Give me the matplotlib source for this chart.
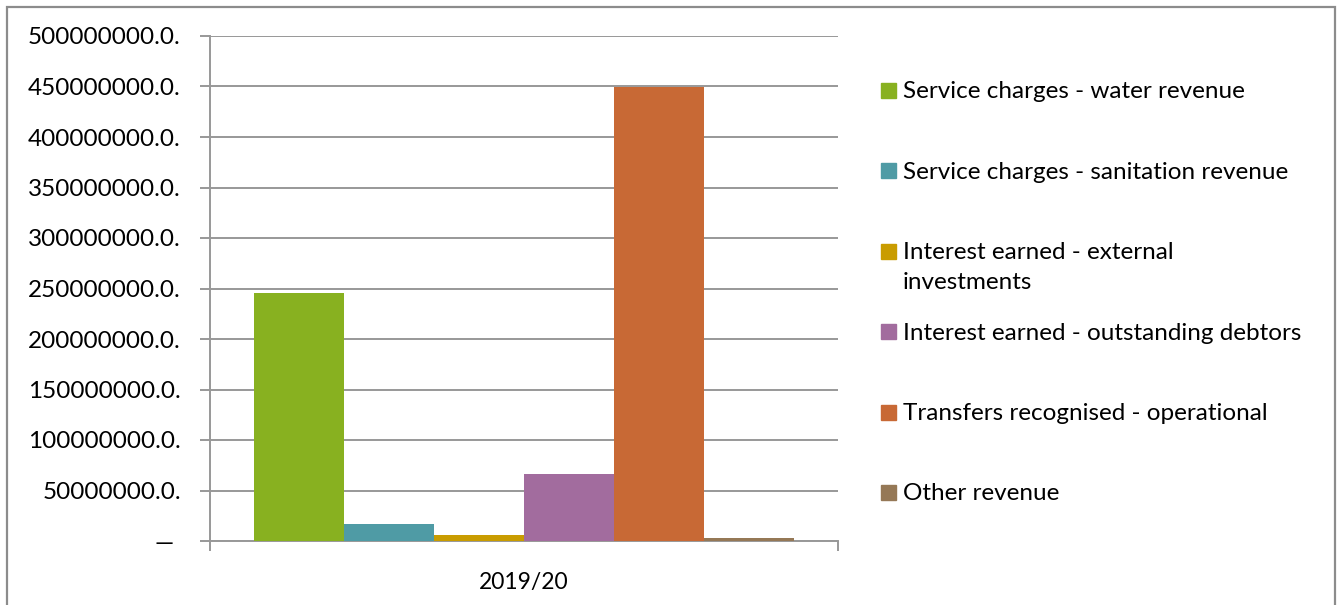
import numpy as np
import matplotlib.pyplot as plt
from matplotlib.patches import Rectangle
from matplotlib.ticker import FuncFormatter

plt.rcParams['font.family'] = ['Lato', 'DejaVu Sans']

# revenue by source, 2019/20
category = '2019/20'
series = ['Service charges - water revenue',
          'Service charges - sanitation revenue',
          'Interest earned - external\ninvestments',
          'Interest earned - outstanding debtors',
          'Transfers recognised - operational',
          'Other revenue']
values = [245500000, 16800000, 6000000, 66300000, 449500000, 2700000]
colors = ['#88b120', '#4f9ba5', '#c99c00', '#a26c9e', '#c86935', '#957856']

W, H = 1343, 605
fig = plt.figure(figsize=(W / 100, H / 100), dpi=100)

# outer chart border
fig.patches.append(Rectangle((7 / W, -0.02), 1328 / W, (H - 7) / H + 0.02,
                             transform=fig.transFigure, fill=False,
                             edgecolor='#8c8c8c', linewidth=1.6))

ax = fig.add_axes([210 / W, (H - 541) / H, 628 / W, 505 / H])

n = len(values)
bw = 0.86 / n
x = -0.43 + bw * (np.arange(n) + 0.5)
ax.bar(x, values, width=bw, color=colors, zorder=3)

ax.set_xlim(-0.5, 0.5)
ax.set_ylim(0, 500000000)
ax.set_yticks(np.arange(0, 500000001, 50000000))
ax.yaxis.set_major_formatter(FuncFormatter(
    lambda v, p: '\u2014 ' if v == 0 else f'{v:.1f}.'))
ax.grid(axis='y', color='#989898', linewidth=1.4, zorder=0)

ax.set_xticks([-0.5, 0.5])
ax.set_xticklabels(['', ''])
ax.set_xticks([0], minor=True)
ax.set_xticklabels([category], minor=True)
ax.tick_params(axis='x', which='minor', length=0, pad=22, labelsize=16.5)
ax.tick_params(axis='x', which='major', length=7, width=1.4, color='#989898')
ax.tick_params(axis='y', length=7, width=1.4, color='#989898', labelsize=17.5, pad=14)

for s in ['top', 'right']:
    ax.spines[s].set_visible(False)
for s in ['left', 'bottom']:
    ax.spines[s].set_color('#989898')
    ax.spines[s].set_linewidth(1.4)

# legend drawn by hand so wrapped entry keeps its marker on the first line
for i, (lab, c) in enumerate(zip(series, colors)):
    yc = 90.5 + 80.4 * i
    fig.patches.append(Rectangle((881 / W, (H - yc - 7.5) / H), 15 / W, 15 / H,
                                 transform=fig.transFigure, color=c))
    fig.text(903 / W, (H - yc + 9) / H, lab, fontsize=17.5, va='top',
             ha='left', linespacing=1.5)

fig.savefig('out.png', dpi=100)
